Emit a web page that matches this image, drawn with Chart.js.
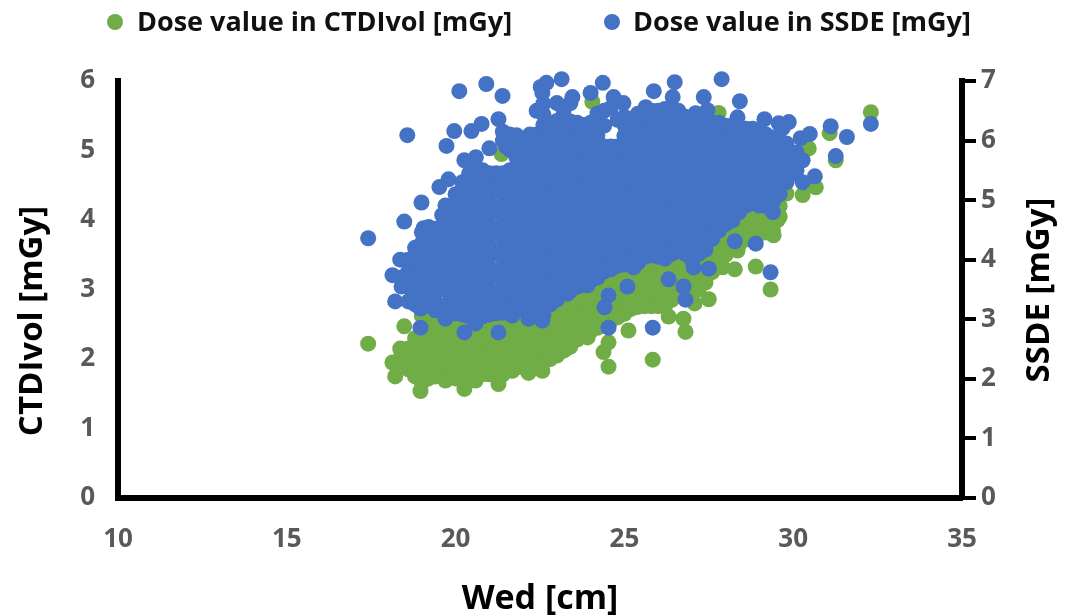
<!DOCTYPE html>
<html>
<head>
<meta charset="utf-8">
<script src="https://cdn.jsdelivr.net/npm/chart.js@4"></script>
<style>
  html, body { margin: 0; background: #fff; }
  #wrap { position: relative; width: 1073px; height: 615px; overflow: hidden; }
  canvas { position: absolute; left: 0; top: 0; }
  .key { position: absolute; top: 3px; font: bold 27px "Open Sans"; color: #111; white-space: nowrap; line-height: 36px; }
  .key i { position: absolute; top: 11px; width: 16px; height: 16px; border-radius: 50%; }
</style>
</head>
<body>
<div id="wrap">
  <canvas id="chart" width="1073" height="615"></canvas>
  <div class="key" style="left:137px"><i style="left:-30px;background:#70ad47"></i><span id="key0"></span></div>
  <div class="key" style="left:633px"><i style="left:-29px;background:#4472c4"></i><span id="key1"></span></div>
</div>
<script>
const seriesNames = ["Dose value in CTDIvol [mGy]", "Dose value in SSDE [mGy]"]
const xTitle = "Wed [cm]"
const leftTitle = "CTDIvol [mGy]"
const rightTitle = "SSDE [mGy]"

// each row: Wed value, then the dose values read at that Wed
const ctdiRows = [
  [17.41, 2.22], [18.48, 2.47], [18.36, 2.15], [18.13, 1.95], [18.21, 1.75], [18.96, 1.54],
  [19.7, 1.69], [20.26, 1.57], [20.59, 1.69], [21.27, 1.64], [21.68, 1.83], [22.16, 1.8], [22.57, 1.83],
  [23.32, 2.16], [23.91, 2.31], [24.53, 2.24, 1.89], [24.38, 2.1], [25.84, 1.99], [25.12, 2.41],
  [26.81, 2.39], [26.75, 2.58], [26.31, 2.61], [27.5, 2.86], [27.08, 2.8], [28.27, 3.29], [28.89, 3.33],
  [29.33, 3], [27.91, 3.32], [28.35, 3.56], [29.42, 3.78], [29.54, 4], [30.28, 4.36], [30.67, 4.47],
  [30.46, 5.03], [31.08, 5.25], [31.26, 4.86], [32.3, 5.55], [27.79, 5.54], [21.36, 4.95], [24.05, 5.7],
  [18.4, 1.95, 2.08],
  [18.6, 1.85, 2, 2.15],
  [18.8, 1.75, 1.9, 2.05, 2.18, 2.3],
  [19, 1.66, 1.82, 1.98, 2.14, 2.3, 2.46, 2.62],
  [19.2, 1.72, 1.88, 2.05, 2.22, 2.38, 2.54, 2.7],
  [19.4, 1.75, 1.9, 2.06, 2.22, 2.38, 2.54, 2.7],
  [19.6, 1.78, 1.94, 2.1, 2.26, 2.43, 2.58, 2.72],
  [19.8, 1.74, 1.88, 2.04, 2.2, 2.36, 2.52, 2.68],
  [20, 1.72, 1.88, 2.05, 2.22, 2.38, 2.54, 2.7],
  [20.2, 1.7, 1.86, 2.02, 2.18, 2.34, 2.5, 2.66],
  [20.4, 1.72, 1.88, 2.05, 2.22, 2.38, 2.54, 2.7],
  [20.6, 1.78, 1.94, 2.1, 2.26, 2.42, 2.58, 2.74],
  [20.8, 1.78, 1.94, 2.1, 2.26, 2.43, 2.6, 2.75],
  [21, 1.78, 1.9, 2.06, 2.22, 2.38, 2.54, 2.7],
  [21.2, 1.78, 1.94, 2.1, 2.26, 2.43, 2.6, 2.75],
  [21.4, 1.78, 1.94, 2.1, 2.26, 2.42, 2.58, 2.74],
  [21.6, 1.85, 2.02, 2.18, 2.34, 2.5, 2.66, 2.8],
  [21.8, 1.88, 2.02, 2.18, 2.34, 2.5, 2.66, 2.82],
  [22, 1.88, 2.04, 2.2, 2.36, 2.52, 2.68, 2.85],
  [22.2, 1.88, 2.04, 2.2, 2.36, 2.52, 2.68, 2.84],
  [22.4, 1.92, 2.08, 2.25, 2.42, 2.58, 2.74, 2.9],
  [22.6, 1.95, 2.1, 2.26, 2.42, 2.58, 2.74, 2.9],
  [22.8, 2, 2.16, 2.33, 2.5, 2.65, 2.8, 2.95],
  [23, 2.05, 2.2, 2.36, 2.52, 2.68, 2.84, 3],
  [23.2, 2.12, 2.28, 2.45, 2.62, 2.78, 2.92, 3.05],
  [23.4, 2.18, 2.32, 2.48, 2.64, 2.8, 2.96, 3.12],
  [23.6, 2.28, 2.44, 2.6, 2.76, 2.92, 3.06, 3.2],
  [23.8, 2.35, 2.5, 2.66, 2.82, 2.98, 3.14, 3.3],
  [24, 2.4, 2.56, 2.72, 2.88, 3.05, 3.2, 3.35],
  [24.2, 2.45, 2.58, 2.74, 2.9, 3.06, 3.22, 3.38],
  [24.4, 2.5, 2.66, 2.82, 2.98, 3.15, 3.3, 3.45],
  [24.6, 2.55, 2.7, 2.86, 3.02, 3.18, 3.34, 3.5],
  [24.8, 2.6, 2.76, 2.92, 3.08, 3.25, 3.4, 3.55],
  [25, 2.65, 2.78, 2.94, 3.1, 3.26, 3.42],
  [25.2, 2.72, 2.88, 3.05, 3.22, 3.38, 3.6],
  [25.4, 2.75, 2.9, 3.06, 3.22, 3.38, 3.54],
  [25.6, 2.76, 2.92, 3.08, 3.24, 3.4, 3.55, 3.7],
  [25.8, 2.76, 2.92, 3.08, 3.24, 3.4, 3.56, 3.72],
  [26, 2.76, 2.92, 3.08, 3.24, 3.4, 3.55, 3.7],
  [26.2, 2.76, 2.9, 3.06, 3.22, 3.38, 3.54, 3.7],
  [26.4, 2.85, 3.02, 3.18, 3.34, 3.5, 3.75],
  [26.6, 2.92, 3.08, 3.24, 3.4, 3.56, 3.72],
  [26.8, 2.93, 3.1, 3.25, 3.42, 3.58, 3.8],
  [27, 2.95, 3.1, 3.26, 3.42, 3.58, 3.74],
  [27.2, 3, 3.16, 3.33, 3.5, 3.65, 3.9],
  [27.4, 3.1, 3.26, 3.42, 3.58, 3.74, 3.9],
  [27.6, 3.25, 3.4, 3.55, 3.7, 3.85],
  [27.8, 3.4, 3.55, 3.7, 3.86, 4.02],
  [28, 3.5, 3.65, 3.8, 3.95, 4.1],
  [28.2, 3.6, 3.72, 3.88, 4.04, 4.2],
  [28.4, 3.65, 3.8, 3.95, 4.1, 4.25],
  [28.6, 3.72, 3.88, 4.04, 4.2, 4.36],
  [28.8, 3.75, 3.9, 4.05, 4.2, 4.35],
  [29, 3.8, 3.95, 4.11, 4.27, 4.43],
  [29.2, 3.82, 4, 4.15, 4.3, 4.45],
  [29.4, 3.85, 4, 4.16, 4.32, 4.48, 4.64],
  [29.6, 4.05, 4.2, 4.35, 4.6],
  [29.8, 4.38, 4.55, 4.7]
]

const ssdeRows = [
  [17.41, 4.36], [18.48, 4.64], [18.57, 6.09], [18.99, 4.96], [19.05, 4.53], [19.52, 5.22], [19.79, 5.35],
  [19.7, 4.91, 3.01], [19.73, 5.91], [19.96, 6.16], [20.11, 6.83], [20.91, 6.95], [21.39, 6.75], [20.47, 6.16],
  [20.77, 6.28], [21.27, 6.36, 2.78], [20.26, 5.67, 2.78], [22.69, 6.97], [23.14, 7.03], [22.52, 6.9],
  [22.57, 6.8, 2.98], [23.46, 6.73], [24, 6.8], [24.36, 6.97], [24.68, 6.73], [24.97, 6.63], [25.87, 6.83],
  [26.49, 6.98], [26.43, 6.73], [25.63, 6.56], [27.35, 6.73], [27.88, 7.03], [28.42, 6.66], [28.35, 6.39],
  [27.11, 6.46], [27.46, 6.51], [29.15, 6.36], [29.57, 6.29], [29.87, 6.31], [29.69, 6.21], [30.49, 6.11],
  [30.22, 6.04], [31.11, 6.24], [31.59, 6.06], [31.26, 5.74], [32.3, 6.28], [30.28, 5.67, 5.3], [30.64, 5.4],
  [28.27, 4.31], [28.89, 4.27], [29.33, 3.79], [27.5, 3.85], [27.05, 3.87], [26.75, 3.55], [26.81, 3.33],
  [26.31, 3.67], [25.09, 3.55], [25.84, 2.86], [24.53, 2.86, 3.4], [24.41, 3.2], [25.27, 3.87],
  [18.36, 4], [18.13, 3.74], [18.21, 3.3], [18.96, 2.86, 3.18], [20.59, 2.93], [21.68, 3.06], [22.16, 3.01],
  [23.32, 3.43], [23.91, 3.57], [21.5, 5.9], [21.9, 5.75, 5.95],
  [18.4, 3.55, 3.7],
  [18.6, 3.3, 3.55, 3.8, 4],
  [18.8, 3.25, 3.5, 3.75, 4, 4.2],
  [19, 3.2, 3.38, 3.56, 3.74, 3.92, 4.1, 4.28, 4.46],
  [19.2, 3.25, 3.6, 3.95, 4.3, 4.55],
  [19.4, 3.15, 3.29, 3.47, 3.65, 3.83, 4.01, 4.19, 4.37, 4.52],
  [19.6, 3.15, 3.5, 3.85, 4.2, 4.55, 4.75],
  [19.8, 3.11, 3.28, 3.46, 3.64, 3.82, 4, 4.18, 4.36, 4.54, 4.72, 4.9],
  [20, 3.1, 3.45, 3.8, 4.15, 4.5, 4.85, 5.1],
  [20.2, 3.08, 3.2, 3.38, 3.56, 3.74, 3.92, 4.1, 4.28, 4.46, 4.64, 4.82, 5, 5.18, 5.3],
  [20.4, 3.05, 3.4, 3.75, 4.1, 4.45, 4.8, 5.15, 5.45],
  [20.6, 3.03, 3.21, 3.39, 3.57, 3.75, 3.93, 4.11, 4.29, 4.47, 4.65, 4.83, 5.01, 5.19, 5.37, 5.55, 5.72],
  [20.8, 3.05, 3.4, 3.75, 4.1, 4.45, 4.8, 5.15, 5.5],
  [21, 3.08, 3.16, 3.34, 3.52, 3.7, 3.88, 4.06, 4.24, 4.42, 4.6, 4.78, 4.96, 5.14, 5.32, 5.45, 5.87],
  [21.2, 3.1, 3.45, 3.8, 4.15, 4.5, 4.85, 5.2, 5.45],
  [21.4, 3.11, 3.29, 3.47, 3.65, 3.83, 4.01, 4.19, 4.37, 4.55, 4.73, 4.91, 5.09, 5.27, 5.45, 6, 6.15],
  [21.6, 3.2, 3.55, 3.9, 4.25, 4.6, 4.95, 5.3, 5.5, 5.85, 6.1],
  [21.8, 3.25, 3.38, 3.56, 3.74, 3.92, 4.1, 4.28, 4.46, 4.64, 4.82, 5, 5.18, 5.36, 5.54, 5.72, 5.9, 6.09],
  [22, 3.15, 3.5, 3.85, 4.2, 4.55, 4.9, 5.25, 5.6, 5.95],
  [22.2, 3.11, 3.29, 3.47, 3.65, 3.83, 4.01, 4.19, 4.37, 4.55, 4.73, 4.91, 5.09, 5.27, 5.45, 5.63, 5.81, 5.99, 6.1],
  [22.4, 3.1, 3.45, 3.8, 4.15, 4.5, 4.85, 5.2, 5.55, 5.9, 6.1, 6.5],
  [22.6, 3.08, 3.2, 3.38, 3.56, 3.74, 3.92, 4.1, 4.28, 4.46, 4.64, 4.82, 5, 5.18, 5.36, 5.54, 5.72, 5.9, 6.08, 6.26, 6.44, 6.62],
  [22.8, 3.25, 3.6, 3.95, 4.3, 4.65, 5, 5.35, 5.7, 6.05, 6.25],
  [23, 3.33, 3.47, 3.65, 3.83, 4.01, 4.19, 4.37, 4.55, 4.73, 4.91, 5.09, 5.27, 5.45, 5.63, 5.81, 5.99, 6.17, 6.33, 6.63],
  [23.2, 3.45, 3.8, 4.15, 4.5, 4.85, 5.2, 5.55, 5.9, 6.25, 6.5],
  [23.4, 3.48, 3.56, 3.74, 3.92, 4.1, 4.28, 4.46, 4.64, 4.82, 5, 5.18, 5.36, 5.54, 5.72, 5.9, 6.08, 6.26, 6.32, 6.63],
  [23.6, 3.55, 3.9, 4.25, 4.6, 4.95, 5.3, 5.65, 6, 6.3],
  [23.8, 3.58, 3.65, 3.83, 4.01, 4.19, 4.37, 4.55, 4.73, 4.91, 5.09, 5.27, 5.45, 5.63, 5.81, 5.99, 6.17, 6.26],
  [24, 3.65, 4, 4.35, 4.7, 5.05, 5.4, 5.75, 6.1, 6.3],
  [24.2, 3.7, 3.74, 3.92, 4.1, 4.28, 4.46, 4.64, 4.82, 5, 5.18, 5.36, 5.54, 5.72, 5.9, 6.08, 6.26, 6.45],
  [24.4, 3.8, 4.15, 4.5, 4.85, 5.2, 5.55, 5.9, 6.25, 6.5],
  [24.6, 3.84, 4.01, 4.19, 4.37, 4.55, 4.73, 4.91, 5.09, 5.27, 5.45, 5.63, 5.81, 5.9, 6.55],
  [24.8, 3.9, 4.25, 4.6, 4.95, 5.3, 5.65, 5.9, 6.35],
  [25, 3.92, 4.1, 4.28, 4.46, 4.64, 4.82, 5, 5.18, 5.36, 5.54, 5.72, 5.9, 6.08, 6.26, 6.4],
  [25.2, 3.95, 4.3, 4.65, 5, 5.35, 5.7, 6.05, 6.35],
  [25.4, 3.95, 4.01, 4.19, 4.37, 4.55, 4.73, 4.91, 5.09, 5.27, 5.45, 5.63, 5.81, 5.99, 6.17, 6.35, 6.45],
  [25.6, 4.05, 4.4, 4.75, 5.1, 5.45, 5.8, 6.15, 6.45],
  [25.8, 4.07, 4.1, 4.28, 4.46, 4.64, 4.82, 5, 5.18, 5.36, 5.54, 5.72, 5.9, 6.08, 6.26, 6.44, 6.5],
  [26, 4.05, 4.4, 4.75, 5.1, 5.45, 5.8, 6.15, 6.5],
  [26.2, 4.02, 4.19, 4.37, 4.55, 4.73, 4.91, 5.09, 5.27, 5.45, 5.63, 5.81, 5.99, 6.17, 6.35, 6.53],
  [26.4, 4.1, 4.45, 4.8, 5.15, 5.5, 5.85, 6.2, 6.5],
  [26.6, 4.16, 4.28, 4.46, 4.64, 4.82, 5, 5.18, 5.36, 5.54, 5.72, 5.9, 6.08, 6.26, 6.44, 6.5],
  [26.8, 4.1, 4.45, 4.8, 5.15, 5.5, 5.85, 6.2, 6.4],
  [27, 3.99, 4.19, 4.37, 4.55, 4.73, 4.91, 5.09, 5.27, 5.45, 5.63, 5.81, 5.99, 6.17, 6.3],
  [27.2, 4.1, 4.45, 4.8, 5.15, 5.5, 5.85, 6.2, 6.35],
  [27.4, 4.17, 4.28, 4.46, 4.64, 4.82, 5, 5.18, 5.36, 5.54, 5.72, 5.9, 6.08, 6.26, 6.4],
  [27.6, 4.35, 4.7, 5.05, 5.4, 5.75, 6.1, 6.3],
  [27.8, 4.49, 4.55, 4.73, 4.91, 5.09, 5.27, 5.45, 5.63, 5.81, 5.99, 6.17, 6.3],
  [28, 4.6, 4.95, 5.3, 5.65, 6, 6.25],
  [28.2, 4.66, 4.73, 4.91, 5.09, 5.27, 5.45, 5.63, 5.81, 5.99, 6.13, 6.25],
  [28.4, 4.8, 5.15, 5.5, 5.85, 6.2],
  [28.6, 4.91, 5, 5.18, 5.36, 5.54, 5.72, 5.9, 6.08, 6.2],
  [28.8, 4.95, 5.3, 5.65, 6, 6.2],
  [29, 4.91, 5.09, 5.27, 5.45, 5.63, 5.81, 5.99, 6.17],
  [29.2, 4.9, 5.25, 5.6, 5.95, 6.1],
  [29.4, 4.8, 4.97, 5.15, 5.33, 5.51, 5.69, 5.87, 6.05],
  [29.6, 5.1, 5.45, 5.8, 6],
  [29.8, 5.3, 5.45, 5.63, 5.81, 5.95],
  [30, 5.45, 5.75],
  [30.1, 5.5, 5.68, 5.8]
]

const toPoints = rows => rows.flatMap(([wed, ...doses]) => doses.map(d => ({ x: wed, y: d })))

document.getElementById("key0").textContent = seriesNames[0]
document.getElementById("key1").textContent = seriesNames[1]

const tickFont = { family: "Open Sans", size: 26, weight: "bold" }

// both y titles read bottom to top and the left one sits below the axis centre,
// the built in titles cannot do that
const yTitlesPlugin = {
  id: "yTitles",
  afterDraw(chart) {
    const ctx = chart.ctx
    const draw = (text, x, y) => {
      ctx.save()
      ctx.translate(x, y)
      ctx.rotate(-Math.PI / 2)
      ctx.font = "bold 33px 'Open Sans'"
      ctx.fillStyle = "#000"
      ctx.textAlign = "center"
      ctx.textBaseline = "middle"
      ctx.fillText(text, 0, 0)
      ctx.restore()
    }
    draw(leftTitle, 33, 321)
    draw(rightTitle, 1040, 290)
  }
}

new Chart(document.getElementById("chart"), {
  type: "scatter",
  data: {
    datasets: [
      { label: seriesNames[0], data: toPoints(ctdiRows), yAxisID: "y", order: 2, clip: false,
        backgroundColor: "#70ad47", pointRadius: 8, borderWidth: 0 },
      { label: seriesNames[1], data: toPoints(ssdeRows), yAxisID: "y1", order: 1, clip: false,
        backgroundColor: "#4472c4", pointRadius: 8, borderWidth: 0 }
    ]
  },
  options: {
    responsive: false,
    animation: false,
    layout: { padding: { top: 81, right: 0, bottom: 0, left: 0 } },
    plugins: { legend: { display: false }, tooltip: { enabled: false } },
    scales: {
      x: {
        type: "linear", min: 10, max: 35,
        afterFit: s => { s.height = 117 },
        border: { color: "#000", width: 6 },
        grid: { display: false },
        ticks: { stepSize: 5, padding: 18, color: "#595959", font: tickFont, maxRotation: 0 },
        title: { display: true, text: xTitle, color: "#000", font: { family: "Open Sans", size: 34, weight: "bold" }, padding: { top: 14, bottom: -5 } }
      },
      y: {
        position: "left", min: 0, max: 6,
        afterFit: s => { s.width = 118 },
        border: { color: "#000", width: 6 },
        grid: { display: false },
        ticks: { stepSize: 1, padding: 15, color: "#595959", font: tickFont }
      },
      y1: {
        position: "right", min: 0, max: 7,
        afterFit: s => { s.width = 111 },
        border: { color: "#000", width: 6 },
        grid: { drawOnChartArea: false, tickLength: 14, lineWidth: 4, color: "#000" },
        ticks: { stepSize: 1, padding: 5, color: "#595959", font: tickFont }
      }
    }
  },
  plugins: [yTitlesPlugin]
})
</script>
</body>
</html>
